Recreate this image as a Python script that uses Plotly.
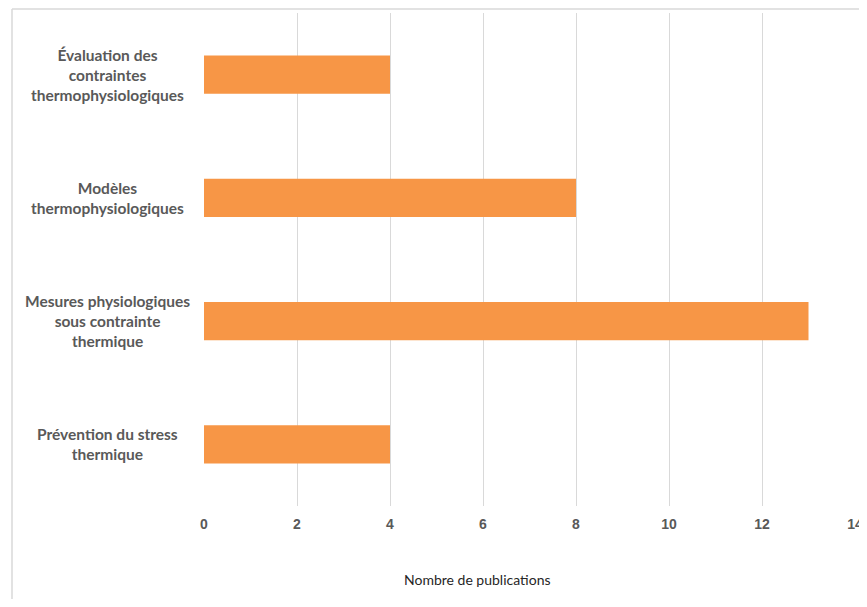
import plotly.graph_objects as go

categories = [
    "Évaluation des<br>contraintes<br>thermophysiologiques",
    "Modèles<br>thermophysiologiques",
    "Mesures physiologiques<br>sous contrainte<br>thermique",
    "Prévention du stress<br>thermique",
]
values = [4, 8, 13, 4]
x_ticks = [0, 2, 4, 6, 8, 10, 12, 14]
x_title = "Nombre de publications"

# page has an 8px body margin; work in page pixels and convert
OFF = 8
PAGE_W, PAGE_H = 867, 607
W, H = PAGE_W - OFF, PAGE_H - 2 * OFF
plot_left, plot_right, plot_top, plot_bottom = 204, 855, 13, 506
ml = plot_left - OFF
mr = W - (plot_right - OFF)
mt = plot_top - OFF
mb = H - (plot_bottom - OFF)
pw = plot_right - plot_left
ph = plot_bottom - plot_top

def px_x(p):
    return (p - plot_left) / pw

def px_y(p):
    return (plot_bottom - p) / ph

fig = go.Figure(go.Bar(
    x=values, y=categories, orientation="h",
    marker=dict(color="#F79646", line=dict(width=0)),
    hoverinfo="x+y",
))

annotations = []
for c in categories:
    annotations.append(dict(
        x=px_x(107), xref="paper", y=c, yref="y",
        text=c, showarrow=False, xanchor="center", yanchor="middle", align="center",
        font=dict(family="Lato", size=15.5, color="#595959", weight="bold"),
    ))
annotations.append(dict(
    x=px_x(477), xref="paper", y=px_y(579), yref="paper",
    text=x_title, showarrow=False, xanchor="center", yanchor="middle",
    font=dict(family="Lato", size=14, color="#262626"),
))

fig.update_layout(
    width=W, height=H,
    margin=dict(l=ml, r=mr, t=mt, b=mb, pad=0),
    paper_bgcolor="white", plot_bgcolor="white",
    bargap=0.69,
    showlegend=False,
    xaxis=dict(
        range=[0, 14], tickvals=x_ticks, ticktext=[str(t) for t in x_ticks],
        showgrid=True, gridcolor="#D9D9D9", gridwidth=1,
        zeroline=False, showline=False, ticks="",
        ticklabelstandoff=8,
        tickfont=dict(family="Liberation Sans", size=14, color="#595959", weight="bold"),
    ),
    yaxis=dict(
        categoryorder="array", categoryarray=categories, autorange="reversed",
        showticklabels=False, showgrid=False, zeroline=False, showline=False, ticks="",
    ),
    annotations=annotations,
    shapes=[
        dict(type="line", xref="paper", yref="paper",
             x0=px_x(12), x1=px_x(PAGE_W + 5), y0=px_y(OFF + 1), y1=px_y(OFF + 1),
             line=dict(color="#D9D9D9", width=1.5)),
        dict(type="line", xref="paper", yref="paper",
             x0=px_x(12), x1=px_x(12), y0=px_y(OFF + 1), y1=px_y(PAGE_H + 5),
             line=dict(color="#D9D9D9", width=1.5)),
    ],
)

fig.write_html("out.html")
